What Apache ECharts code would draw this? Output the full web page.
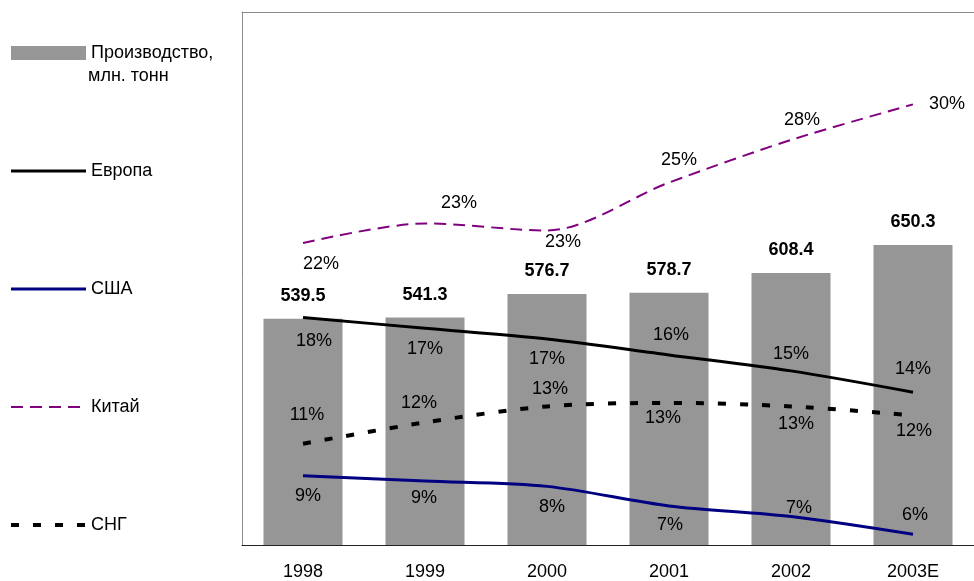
<!DOCTYPE html>
<html>
<head>
<meta charset="utf-8">
<script src="https://cdn.jsdelivr.net/npm/echarts@6/dist/echarts.min.js"></script>
<style>
  html, body { margin: 0; padding: 0; background: #fff; }
  #chart { width: 974px; height: 581px; }
</style>
</head>
<body>
<div id="chart"></div>
<script>
  // категории и данные
  const years = ['1998', '1999', '2000', '2001', '2002', '2003E']
  const production = [539.5, 541.3, 576.7, 578.7, 608.4, 650.3]
  const europe = [17.8, 17.2, 16.6, 15.7, 14.8, 13.6]
  const usa = [8.9, 8.6, 8.3, 7.2, 6.6, 5.6]
  const china = [22.0, 23.1, 22.7, 25.4, 27.8, 29.8]
  const cis = [10.7, 11.9, 12.8, 13.0, 12.8, 12.3]

  // размещение подписей: сторона, отступ от точки, сдвиг по x
  const labelLayout = {
    'Европа': {
      pos: ['bottom', 'bottom', 'bottom', 'top', 'top', 'top'],
      dist: [14, 12, 11, 11, 8, 14],
      dx: [11, 0, 0, 2, 0, 0]
    },
    'США': {
      pos: ['bottom', 'bottom', 'bottom', 'bottom', 'top', 'top'],
      dist: [11, 8, 12, 10, 0, 10],
      dx: [5, -1, 5, 1, 8, 2]
    },
    'Китай': {
      pos: ['bottom', 'top', 'bottom', 'top', 'top', 'right'],
      dist: [12, 11, 3, 14, 11, 16],
      dx: [18, 34, 16, 10, 11, 0]
    },
    'СНГ': {
      pos: ['top', 'top', 'top', 'bottom', 'bottom', 'bottom'],
      dist: [20, 10, 8, 6, 9, 7],
      dx: [4, -6, 3, -6, 5, 1]
    }
  }

  const FONT = '"Liberation Sans", Arial, sans-serif'
  const BORDER = '#8c8c8c'

  const styles = {
    'Европа': { color: '#000', width: 3 },
    'США': { color: '#000080', width: 3 },
    'Китай': { color: '#800080', width: 2, type: [12, 7] },
    'СНГ': { color: '#000', width: 4, type: [8, 14] }
  }

  function withLabels(name, values) {
    const l = labelLayout[name]
    return values.map((v, i) => ({
      value: v,
      label: { position: l.pos[i], distance: l.dist[i], offset: [l.dx[i], 0] }
    }))
  }

  function lineSeries(name, values) {
    return {
      name: name,
      type: 'line',
      yAxisIndex: 1,
      smooth: 0.3,
      symbol: 'circle',
      symbolSize: 0,
      z: 3,
      itemStyle: { color: styles[name].color },
      lineStyle: styles[name],
      label: {
        show: true,
        fontFamily: FONT,
        fontSize: 18,
        color: '#000',
        formatter: p => Math.round(p.value) + '%'
      },
      data: withLabels(name, values)
    }
  }

  function legendLine(name) {
    return { name: name, itemStyle: { opacity: 0 }, lineStyle: styles[name] }
  }

  const chart = echarts.init(document.getElementById('chart'))
  chart.setOption({
    animation: false,
    backgroundColor: '#fff',
    textStyle: { fontFamily: FONT },
    grid: {
      left: 242,
      top: 12,
      right: -5,
      bottom: 34
    },
    legend: {
      orient: 'vertical',
      left: 9,
      top: 43,
      padding: 0,
      itemWidth: 75,
      itemHeight: 14,
      itemGap: 98,
      textStyle: { fontFamily: FONT, fontSize: 18, color: '#000', lineHeight: 20 },
      data: [
        { name: 'Производство,', icon: 'rect' },
        legendLine('Европа'), legendLine('США'), legendLine('Китай'), legendLine('СНГ')
      ]
    },
    graphic: [{
      type: 'text',
      left: 88,
      top: 67,
      style: { text: 'млн. тонн', font: '18px ' + FONT, fill: '#000' }
    }],
    xAxis: [
      {
        type: 'category',
        data: years,
        axisLine: { lineStyle: { color: '#222', width: 1 } },
        axisTick: { length: 5, lineStyle: { color: '#222' } },
        axisLabel: { fontFamily: FONT, fontSize: 18, color: '#000', margin: 18 }
      },
      {
        // верхняя рамка
        type: 'category',
        position: 'top',
        data: years,
        axisLine: { lineStyle: { color: BORDER, width: 1 } },
        axisTick: { show: false },
        axisLabel: { show: false }
      }
    ],
    yAxis: [
      {
        type: 'value', min: 200, max: 1000,
        axisLine: { show: true, lineStyle: { color: BORDER, width: 1 } },
        axisTick: { show: false },
        axisLabel: { show: false },
        splitLine: { show: false }
      },
      { type: 'value', min: 5, max: 35, show: false, splitLine: { show: false } }
    ],
    series: [
      {
        name: 'Производство,',
        type: 'bar',
        barWidth: 79,
        itemStyle: { color: '#969696' },
        label: {
          show: true,
          position: 'top',
          distance: 14,
          fontFamily: FONT,
          fontSize: 18,
          fontWeight: 'bold',
          color: '#000'
        },
        data: production
      },
      lineSeries('Европа', europe),
      lineSeries('США', usa),
      lineSeries('Китай', china),
      lineSeries('СНГ', cis)
    ]
  })
</script>
</body>
</html>
